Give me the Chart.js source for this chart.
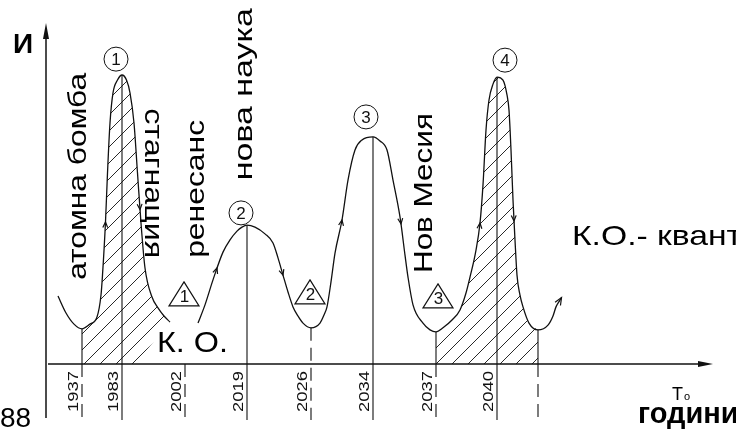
<!DOCTYPE html>
<html><head><meta charset="utf-8">
<script src="https://cdn.jsdelivr.net/npm/chart.js@4.4.1/dist/chart.umd.min.js"></script>
<style>html,body{margin:0;padding:0;background:#fff;overflow:hidden}canvas{display:block}</style>
</head><body>
<canvas id="c" width="736" height="435" style="width:736px;height:435px"></canvas>
<script>
// ---- data (time position units / intensity units) ----
const curveA_x = [1.2, 2.0, 2.8, 3.6, 4.4, 5.1, 5.5, 5.65, 5.95, 6.15, 6.4, 6.7, 7.15, 7.6, 8.05, 8.4, 8.8, 9.15, 9.5, 9.9, 10.6, 11.2, 11.8, 12.4];
const curveA_y = [20.1, 15.1, 11.8, 10.4, 11.8, 13.9, 20.4, 26.3, 42.0, 56.5, 71.3, 80.2, 84.0, 85.5, 84.0, 80.2, 71.3, 56.5, 41.7, 28.4, 19.8, 16.6, 14.2, 12.4];
const curveB_x = [15.2, 15.9, 16.7, 17.7, 18.4, 19.1, 19.6, 20.1, 20.9, 21.9, 22.7, 23.2, 23.7, 24.2, 24.7, 25.2, 25.7, 26.5,
  27.4, 27.8, 28.1, 28.5, 28.9, 29.6, 30.2, 30.9, 31.6, 32.7, 33.4, 34.1, 34.7, 35.4, 35.9, 36.2, 36.7, 37.7, 38.4, 39.0,
  39.7, 40.6, 41.4, 42.0, 42.4, 43.0, 43.4, 43.7, 44.0, 44.3, 44.7, 45.1, 45.7, 46.1, 46.3, 46.5, 46.7, 46.9, 47.1, 47.4,
  47.7, 48.3, 49.2, 50.2, 50.7, 51.0, 51.4];
const curveB_y = [12.1, 17.5, 24.9, 33.1, 36.7, 39.3, 40.5, 41.1, 40.5, 38.5, 35.8, 31.4, 26.3, 21.3, 16.9, 14.2, 12.1, 10.7,
  12.1, 14.5, 16.9, 24.3, 32.8, 42.6, 54.4, 63.3, 66.3, 67.2, 66.0, 63.3, 54.4, 43.5, 32.2, 25.7, 17.5, 12.1, 10.1, 9.5,
  10.7, 13.0, 16.0, 21.0, 25.7, 33.7, 41.7, 53.0, 69.2, 78.1, 82.8, 84.9, 84.0, 79.6, 75.1, 63.3, 48.5, 36.7, 26.3, 20.4,
  16.9, 12.1, 10.1, 11.5, 14.2, 16.9, 18.9];
const hatchBase_x = [3.6, 8.9, 12.4];
const hatchBase_y = [0, 0, 12.4];
const hatch4_range = [39.0, 49.2];
const yearLabels = ['1937', '1983', '2002', '2019', '2026', '2034', '2037', '2040', ''];
const yearPos = [3.6, 7.6, 13.9, 20.1, 26.5, 32.7, 39.0, 45.1, 49.2];
const lineFromCurve = [true, true, false, true, true, true, true, true, true];
const peakLabels = ['1', '2', '3', '4'];
const triLabels = ['1', '2', '3'];
const arrowsA = [5.95, 9.4];
const arrowsB = [17.1, 23.7, 29.6, 35.5, 43.4, 46.8];

// ---- layout / style ----
const INK = '#111';
const FONT = '"Liberation Sans", Arial, Helvetica, sans-serif';
const lineStyle = ['SD', 'S', 'D', 'S', 'D', 'S', 'SD', 'S', 'SD'];
const peakMarkX = [7.0, 19.5, 32.0, 45.9], peakMarkY = [90.2, 44.7, 73.1, 89.9];
const triMarkX = [13.8, 26.4, 39.2], triMarkY = [17.2, 17.8, 16.6];
const notes = [
  {t: 'атомна бомба', x: 4.0, y: 24.9, rot: -90, size: 26, len: 207},
  {t: 'стагнация', x: 9.9, y: 75.7, rot: 90, size: 26, len: 150},
  {t: 'ренесанс', x: 15.8, y: 31.4, rot: -90, size: 26, len: 138},
  {t: 'нова наука', x: 20.6, y: 54.4, rot: -90, size: 26, len: 172},
  {t: 'Нов Месия', x: 38.6, y: 26.9, rot: -90, size: 26, len: 160},
  {t: 'К. О.', x: 11.1, y: 3.55, size: 30, len: 71},
  {t: 'К.О.- квант', x: 52.6, y: 35.2, size: 28, len: 170},
  {t: 'И', x: -3.3, y: 92.0, size: 28, bold: true},
  {t: 'T', x: 62.6, y: -10.65, size: 18},
  {t: 'o', x: 63.8, y: -10.65, size: 11},
  {t: 'години', x: 59.2, y: -17.46, size: 29, bold: true},
  {t: '88', x: -4.6, y: -18.64, size: 28}
];

function pts(xs, ys) { return xs.map((x, i) => ({x: x, y: ys[i]})); }
function sub(xs, ys, a, b) { return pts(xs, ys).filter(p => p.x >= a - 1e-9 && p.x <= b + 1e-9); }
function curveY(x) {
  for (const [xs, ys] of [[curveA_x, curveA_y], [curveB_x, curveB_y]]) {
    if (x >= xs[0] && x <= xs[xs.length - 1]) {
      for (let i = 0; i < xs.length - 1; i++) {
        if (x >= xs[i] && x <= xs[i + 1]) {
          const t = (x - xs[i]) / (xs[i + 1] - xs[i]);
          return ys[i] + t * (ys[i + 1] - ys[i]);
        }
      }
    }
  }
  return 0;
}

function makeHatch() {
  const c = document.createElement('canvas'); c.width = 16; c.height = 16;
  const g = c.getContext('2d');
  g.strokeStyle = INK; g.lineWidth = 0.9;
  g.beginPath();
  g.moveTo(0, 16); g.lineTo(16, 0);
  g.moveTo(-2, 2); g.lineTo(2, -2);
  g.moveTo(14, 18); g.lineTo(18, 14);
  g.stroke();
  return g.createPattern(c, 'repeat');
}

function seg(ctx, x1, y1, x2, y2, dash) {
  ctx.save();
  ctx.setLineDash(dash || []);
  ctx.beginPath(); ctx.moveTo(x1, y1); ctx.lineTo(x2, y2); ctx.stroke();
  ctx.restore();
}
function arrowHead(ctx, x, y, ang, len, half) {
  ctx.beginPath();
  ctx.moveTo(x, y);
  ctx.lineTo(x - len * Math.cos(ang) - half * Math.sin(ang), y - len * Math.sin(ang) + half * Math.cos(ang));
  ctx.lineTo(x - len * Math.cos(ang) + half * Math.sin(ang), y - len * Math.sin(ang) - half * Math.cos(ang));
  ctx.closePath(); ctx.fill();
}
function chevron(ctx, x, y, ang, size, spread) {
  const a1 = ang + Math.PI - spread, a2 = ang + Math.PI + spread;
  ctx.beginPath();
  ctx.moveTo(x + size * Math.cos(a1), y + size * Math.sin(a1));
  ctx.lineTo(x, y);
  ctx.lineTo(x + size * Math.cos(a2), y + size * Math.sin(a2));
  ctx.stroke();
}
function txt(ctx, s, x, y, o) {
  ctx.save();
  ctx.font = (o.bold ? 'bold ' : '') + o.size + 'px ' + FONT;
  ctx.textAlign = o.align || 'left';
  ctx.textBaseline = o.base || 'alphabetic';
  ctx.translate(x, y);
  if (o.rot) ctx.rotate(o.rot * Math.PI / 180);
  if (o.len) { const w = ctx.measureText(s).width; ctx.scale(o.len / w, 1); }
  ctx.fillText(s, 0, 0);
  ctx.restore();
}
// position + direction on a drawn (monotone) curve, from the element control points
function onCurve(meta, xv, xs) {
  const els = meta.data;
  let i = 0;
  while (i < xs.length - 2 && xv > xs[i + 1]) i++;
  const p0 = els[i], p3 = els[i + 1];
  const t = (xv - xs[i]) / (xs[i + 1] - xs[i]);
  const P = [[p0.x, p0.y], [p0.cp2x, p0.cp2y], [p3.cp1x, p3.cp1y], [p3.x, p3.y]];
  const u = 1 - t;
  const bx = u*u*u*P[0][0] + 3*u*u*t*P[1][0] + 3*u*t*t*P[2][0] + t*t*t*P[3][0];
  const by = u*u*u*P[0][1] + 3*u*u*t*P[1][1] + 3*u*t*t*P[2][1] + t*t*t*P[3][1];
  const dx = 3*u*u*(P[1][0]-P[0][0]) + 6*u*t*(P[2][0]-P[1][0]) + 3*t*t*(P[3][0]-P[2][0]);
  const dy = 3*u*u*(P[1][1]-P[0][1]) + 6*u*t*(P[2][1]-P[1][1]) + 3*t*t*(P[3][1]-P[2][1]);
  return {x: bx, y: by, ang: Math.atan2(dy, dx)};
}

const annot = {
  id: 'annot',
  afterDatasetsDraw(chart) {
    const ctx = chart.ctx;
    const xs = chart.scales.x, ys = chart.scales.y;
    const X = v => xs.getPixelForValue(v), Y = v => ys.getPixelForValue(v);
    ctx.save();
    ctx.strokeStyle = INK; ctx.fillStyle = INK;
    // axes
    ctx.lineWidth = 1.5;
    seg(ctx, X(0), Y(-16), X(0), Y(97));
    arrowHead(ctx, X(0), Y(100.9), -Math.PI / 2, 16, 3.0);
    seg(ctx, X(0.2), Y(0), X(65.6), Y(0));
    arrowHead(ctx, X(66.7), Y(0), 0, 15, 3.0);
    // vertical year lines
    ctx.lineWidth = 1.1;
    const bottom = Y(-16.6);
    yearPos.forEach((xv, i) => {
      const px = X(xv);
      const top = Y(lineFromCurve[i] ? curveY(xv) : 0);
      const s = lineStyle[i];
      if (s === 'S') seg(ctx, px, top, px, bottom);
      else if (s === 'SD') { seg(ctx, px, top, px, Y(0)); seg(ctx, px, Y(0), px, bottom, [13, 7]); }
      else seg(ctx, px, top, px, bottom, [13, 7]);
      if (yearLabels[i]) txt(ctx, yearLabels[i], px - 4, Y(-14.2), {size: 15, rot: -90, len: 41});
    });
    // arrows along the curves
    ctx.lineWidth = 1.2;
    const mA = chart.getDatasetMeta(3), mB = chart.getDatasetMeta(4);
    arrowsA.forEach(v => { const p = onCurve(mA, v, curveA_x); chevron(ctx, p.x, p.y, p.ang, 6, 0.42); });
    arrowsB.forEach(v => { const p = onCurve(mB, v, curveB_x); chevron(ctx, p.x, p.y, p.ang, 6, 0.42); });
    {
      const n = curveB_x.length;
      const p = onCurve(mB, curveB_x[n - 1], curveB_x);
      const ex = p.x + 3 * Math.cos(p.ang), ey = p.y + 3 * Math.sin(p.ang);
      seg(ctx, p.x, p.y, ex, ey);
      chevron(ctx, ex, ey, p.ang, 8, 0.4);
    }
    // circled peak numbers
    ctx.lineWidth = 1.0;
    peakLabels.forEach((s, i) => {
      const cx = X(peakMarkX[i]), cy = Y(peakMarkY[i]);
      ctx.beginPath(); ctx.arc(cx, cy, 12, 0, Math.PI * 2); ctx.stroke();
      txt(ctx, s, cx, cy + 1, {size: 17, align: 'center', base: 'middle'});
    });
    // triangle numbers
    ctx.lineWidth = 1.2;
    triLabels.forEach((s, i) => {
      const cx = X(triMarkX[i]), by = Y(triMarkY[i]);
      ctx.beginPath();
      ctx.moveTo(cx, by - 24); ctx.lineTo(cx + 15, by); ctx.lineTo(cx - 15, by); ctx.closePath();
      ctx.stroke();
      txt(ctx, s, cx + 0.5, by - 3.5, {size: 17, align: 'center'});
    });
    // text notes
    ctx.fillStyle = '#000';
    notes.forEach(n => txt(ctx, n.t, X(n.x), Y(n.y), n));
    ctx.restore();
  }
};

const hatch = makeHatch();
new Chart(document.getElementById('c'), {
  type: 'line',
  data: {
    datasets: [
      {data: sub(curveA_x, curveA_y, 3.6, 12.4), fill: '+1', backgroundColor: hatch, borderColor: 'rgba(0,0,0,0)',
       borderWidth: 0, pointRadius: 0, cubicInterpolationMode: 'monotone', order: 3},
      {data: pts(hatchBase_x, hatchBase_y), fill: false, borderColor: 'rgba(0,0,0,0)', borderWidth: 0,
       pointRadius: 0, tension: 0, order: 4},
      {data: sub(curveB_x, curveB_y, hatch4_range[0], hatch4_range[1]), fill: 'origin', backgroundColor: hatch,
       borderColor: 'rgba(0,0,0,0)', borderWidth: 0, pointRadius: 0, cubicInterpolationMode: 'monotone', order: 3},
      {data: pts(curveA_x, curveA_y), borderColor: INK, borderWidth: 1.3, pointRadius: 0, fill: false,
       cubicInterpolationMode: 'monotone', order: 1},
      {data: pts(curveB_x, curveB_y), borderColor: INK, borderWidth: 1.3, pointRadius: 0, fill: false,
       cubicInterpolationMode: 'monotone', order: 1}
    ]
  },
  options: {
    responsive: false, animation: false, events: [],
    layout: {padding: {left: 46, right: 23, top: 26, bottom: 3.4}},
    scales: {
      x: {type: 'linear', min: 0, max: 66.7, display: false},
      y: {type: 'linear', min: -20, max: 100, display: false}
    },
    plugins: {legend: {display: false}, tooltip: {enabled: false}}
  },
  plugins: [annot]
});
</script>
</body></html>
